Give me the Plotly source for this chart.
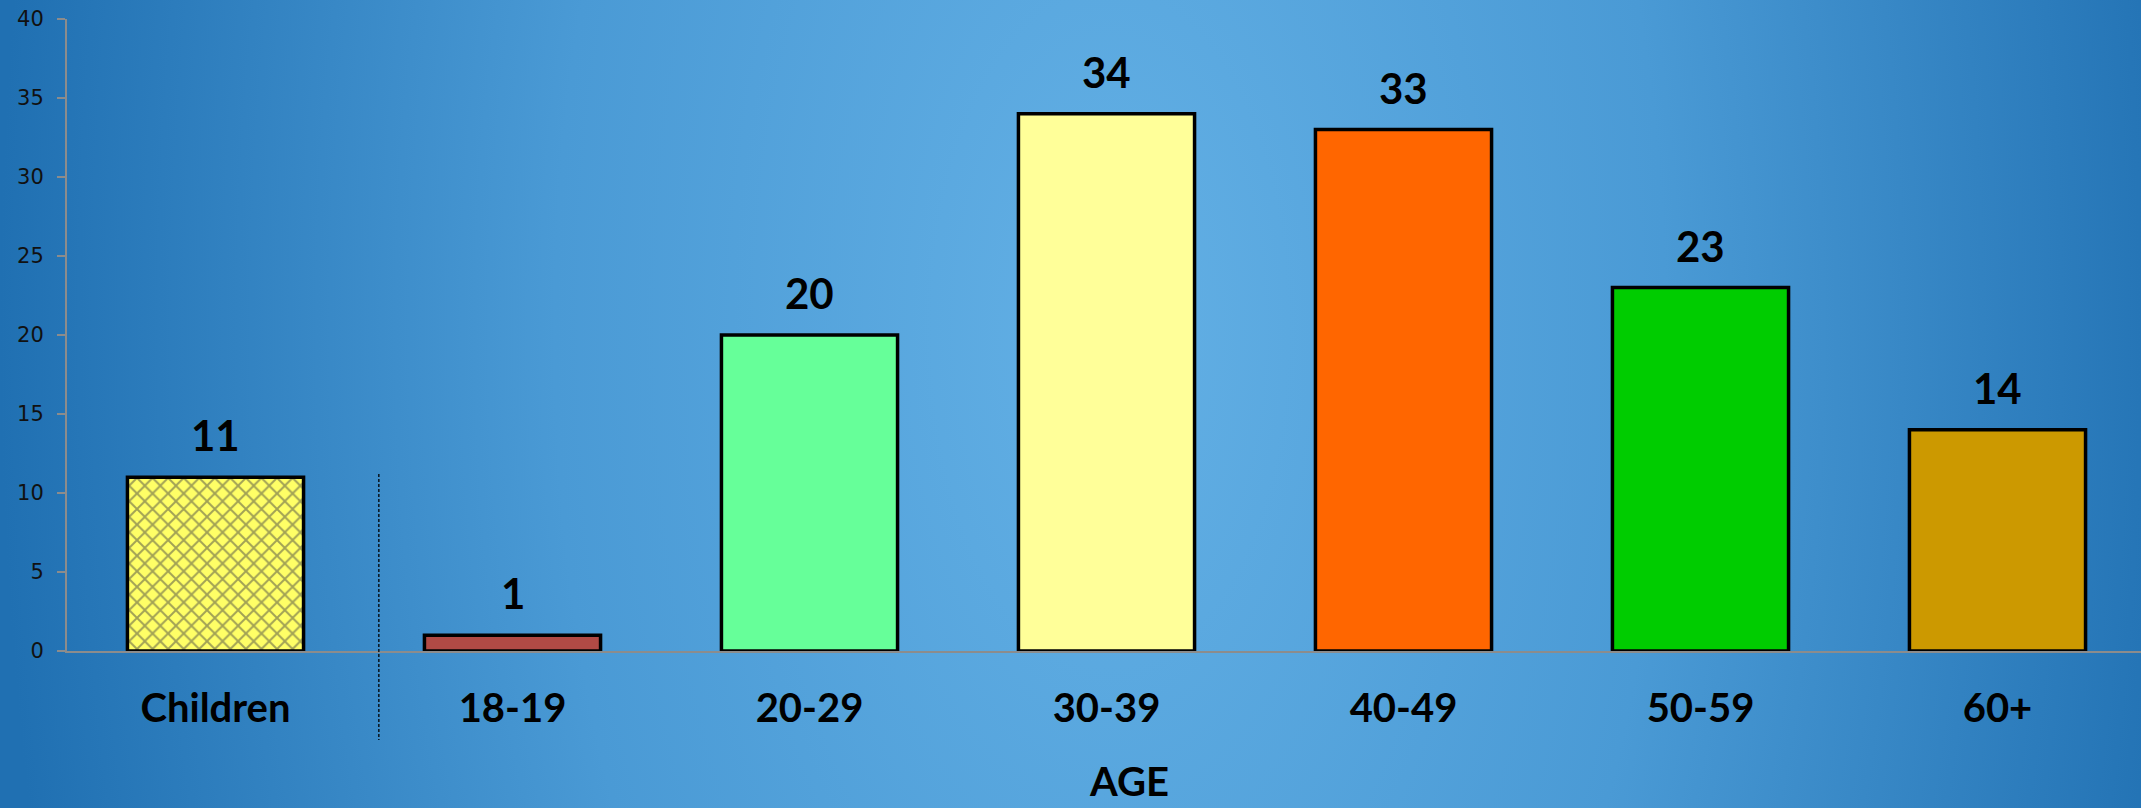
import base64
import plotly.graph_objects as go

# ---- data ----
categories = ["Children", "18-19", "20-29", "30-39", "40-49", "50-59", "60+"]
values = [11, 1, 20, 34, 33, 23, 14]
bar_colors = ["#FFFF66", "#B04A45", "#66FF99", "#FFFF99", "#FF6600", "#00CC00", "#CC9900"]
bar_patterns = ["x", "", "", "", "", "", ""]
y_ticks = [0, 5, 10, 15, 20, 25, 30, 35, 40]
x_title = "AGE"

W, H = 2141, 808
L, R, T, B = 67, 0, 19, 157
pw, ph = W - L - R, H - T - B

# background radial gradient (svg data uri)
svg = f'''<svg xmlns="http://www.w3.org/2000/svg" width="{W}" height="{H}" viewBox="0 0 {W} {H}" preserveAspectRatio="none">
<defs><radialGradient id="g" gradientUnits="userSpaceOnUse" cx="1110" cy="330" r="1110"
 gradientTransform="translate(1110 330) scale(1 1.9) translate(-1110 -330)">
<stop offset="0" stop-color="#63B0E5"/>
<stop offset="0.5" stop-color="#4A9AD5"/>
<stop offset="1" stop-color="#2070B2"/>
</radialGradient></defs>
<rect x="0" y="0" width="{W}" height="{H}" fill="url(#g)"/></svg>'''
bg_uri = "data:image/svg+xml;base64," + base64.b64encode(svg.encode()).decode()

fig = go.Figure()
fig.add_trace(go.Bar(
    x=categories, y=values,
    marker=dict(color=bar_colors, line=dict(color="black", width=3.5),
                pattern=dict(shape=bar_patterns, fgcolor="black", size=11, solidity=0.32)),
    showlegend=False, hoverinfo="skip",
))

for c, v in zip(categories, values):
    fig.add_annotation(x=c, y=v, text=f"<b>{v}</b>", showarrow=False, xref="x", yref="y",
                       yanchor="middle", yshift=42,
                       font=dict(family="Lato", size=42, color="black"))

fig.add_annotation(x=(1129 - L) / pw, y=(T + ph - 781) / ph, xref="paper", yref="paper",
                   text=f"<b>{x_title}</b>", showarrow=False, xanchor="center", yanchor="middle",
                   font=dict(family="Lato", size=40, color="black"))

fig.add_shape(type="line", xref="x", yref="paper", x0=0.55, x1=0.55,
              y0=(T + ph - 474) / ph, y1=(T + ph - 740) / ph,
              line=dict(color="black", width=1.3, dash="3px,2px"))

fig.add_layout_image(dict(source=bg_uri, xref="paper", yref="paper",
                          x=-L / pw, y=(T + ph) / ph, sizex=W / pw, sizey=H / ph,
                          xanchor="left", yanchor="top", sizing="stretch", layer="below"))

fig.update_layout(
    width=W, height=H,
    margin=dict(l=L, r=R, t=T, b=B, autoexpand=False),
    paper_bgcolor="#3A8BCB", plot_bgcolor="rgba(0,0,0,0)",
    bargap=0.407,
    xaxis=dict(type="category", range=[-0.5, -0.5 + pw / 297.0], showline=True, linecolor="#8C8C8C",
               linewidth=2, ticks="", showgrid=False, zeroline=False,
               tickfont=dict(family="Lato", size=40, color="black"),
               tickprefix="<b>", ticksuffix="</b>", ticklabelstandoff=21),
    yaxis=dict(range=[0, 40], tickvals=y_ticks, showline=True, linecolor="#8C8C8C", linewidth=2,
               ticks="outside", ticklen=8, tickwidth=2, tickcolor="#8C8C8C", showgrid=False,
               zeroline=False, ticklabelstandoff=9,
               tickfont=dict(family="DejaVu Sans", size=21, color="#111111")),
)

fig.write_html("out.html", config={"displayModeBar": False},
               post_script="document.body.style.margin='0';document.body.style.padding='0';")
